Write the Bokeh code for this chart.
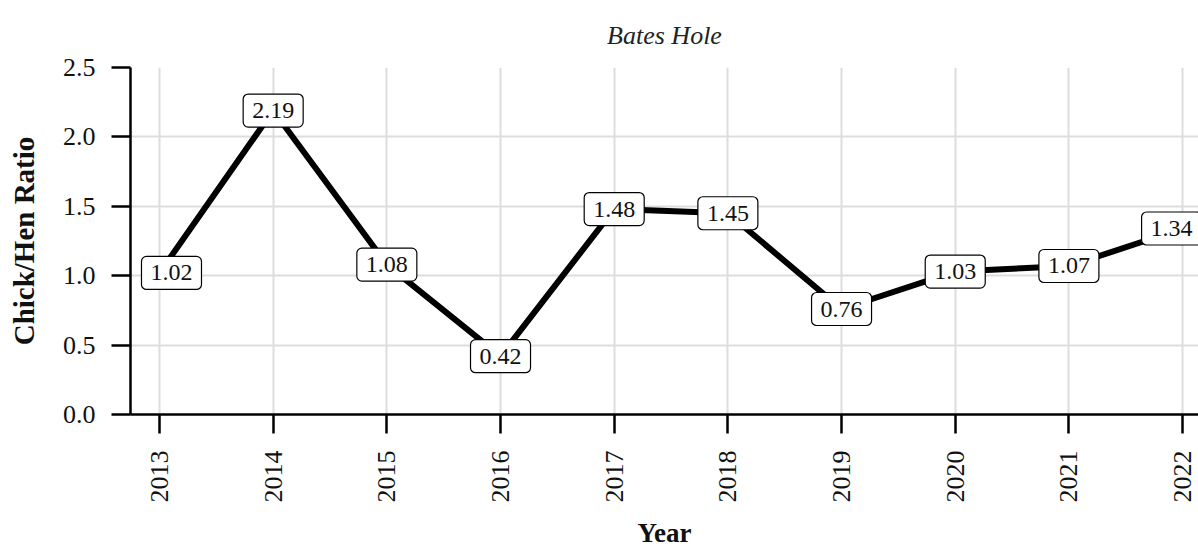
import math
from bokeh.plotting import figure
from bokeh.models import Label, FixedTicker, Range1d, NumeralTickFormatter
from bokeh.embed import file_html
from bokeh.resources import INLINE

years = [2013, 2014, 2015, 2016, 2017, 2018, 2019, 2020, 2021, 2022]
ratios = [1.02, 2.19, 1.08, 0.42, 1.48, 1.45, 0.76, 1.03, 1.07, 1.34]
y_ticks = [0.0, 0.5, 1.0, 1.5, 2.0, 2.5]
title_text = "Bates Hole"
x_label = "Year"
y_label = "Chick/Hen Ratio"

FONT = "Liberation Serif"

p = figure(width=1198, height=546, output_backend="svg", toolbar_location=None,
           x_range=Range1d(2012.745, 2022.14), y_range=Range1d(0, 2.5),
           min_border_left=130, min_border_right=0, min_border_top=67,
           min_border_bottom=120)
p.frame_width = 1068
p.frame_height = 347

p.title.text = title_text
p.title.align = "center"
p.title.vertical_align = "top"
p.title.offset = 7
p.title.text_font = FONT
p.title.text_font_style = "italic"
p.title.text_font_size = "26px"
p.title.text_color = "#222222"
p.title.standoff = 32
p.outline_line_color = None
p.background_fill_color = "white"
p.border_fill_color = "white"

p.line(years, ratios, line_width=6, line_color="black", line_join="round")

for i, (x, y) in enumerate(zip(years, ratios)):
    xo = 0
    if i == 0:
        xo = 12
    elif i == len(years) - 1:
        xo = -11
    p.add_layout(Label(x=x, y=y, text=f"{y:.2f}", text_align="center", text_baseline="middle",
                       x_offset=xo, text_font=FONT, text_font_size="24px", text_color="#111111",
                       background_fill_color="white", border_line_color="black",
                       border_line_width=1.2, padding=9, border_radius=5))

for ax in (p.xaxis[0], p.yaxis[0]):
    ax.axis_line_width = 2.5
    ax.axis_line_color = "black"
    ax.major_tick_line_width = 2.5
    ax.major_tick_line_color = "black"
    ax.major_tick_in = 0
    ax.major_tick_out = 19
    ax.minor_tick_line_color = None
    ax.major_label_text_font = FONT
    ax.major_label_text_font_size = "26px"
    ax.major_label_text_color = "#111111"
    ax.axis_label_text_font = FONT
    ax.axis_label_text_font_style = "bold"
    ax.axis_label_text_color = "#111111"

p.xaxis.ticker = FixedTicker(ticks=years)
p.xaxis.major_label_orientation = math.pi / 2
p.xaxis.major_label_standoff = 17
p.xaxis.axis_label = x_label
p.xaxis.axis_label_text_font_size = "27px"
p.xaxis.axis_label_standoff = 12

p.yaxis.ticker = FixedTicker(ticks=y_ticks)
p.yaxis.formatter = NumeralTickFormatter(format="0.0")
p.yaxis.major_label_standoff = 16
p.yaxis.axis_label = y_label
p.yaxis.axis_label_text_font_size = "29px"
p.yaxis.axis_label_standoff = 20

p.xgrid.grid_line_color = "#dddddd"
p.xgrid.grid_line_width = 2
p.ygrid.grid_line_color = "#dddddd"
p.ygrid.grid_line_width = 2

open("out.html", "w").write(file_html(p, INLINE))
